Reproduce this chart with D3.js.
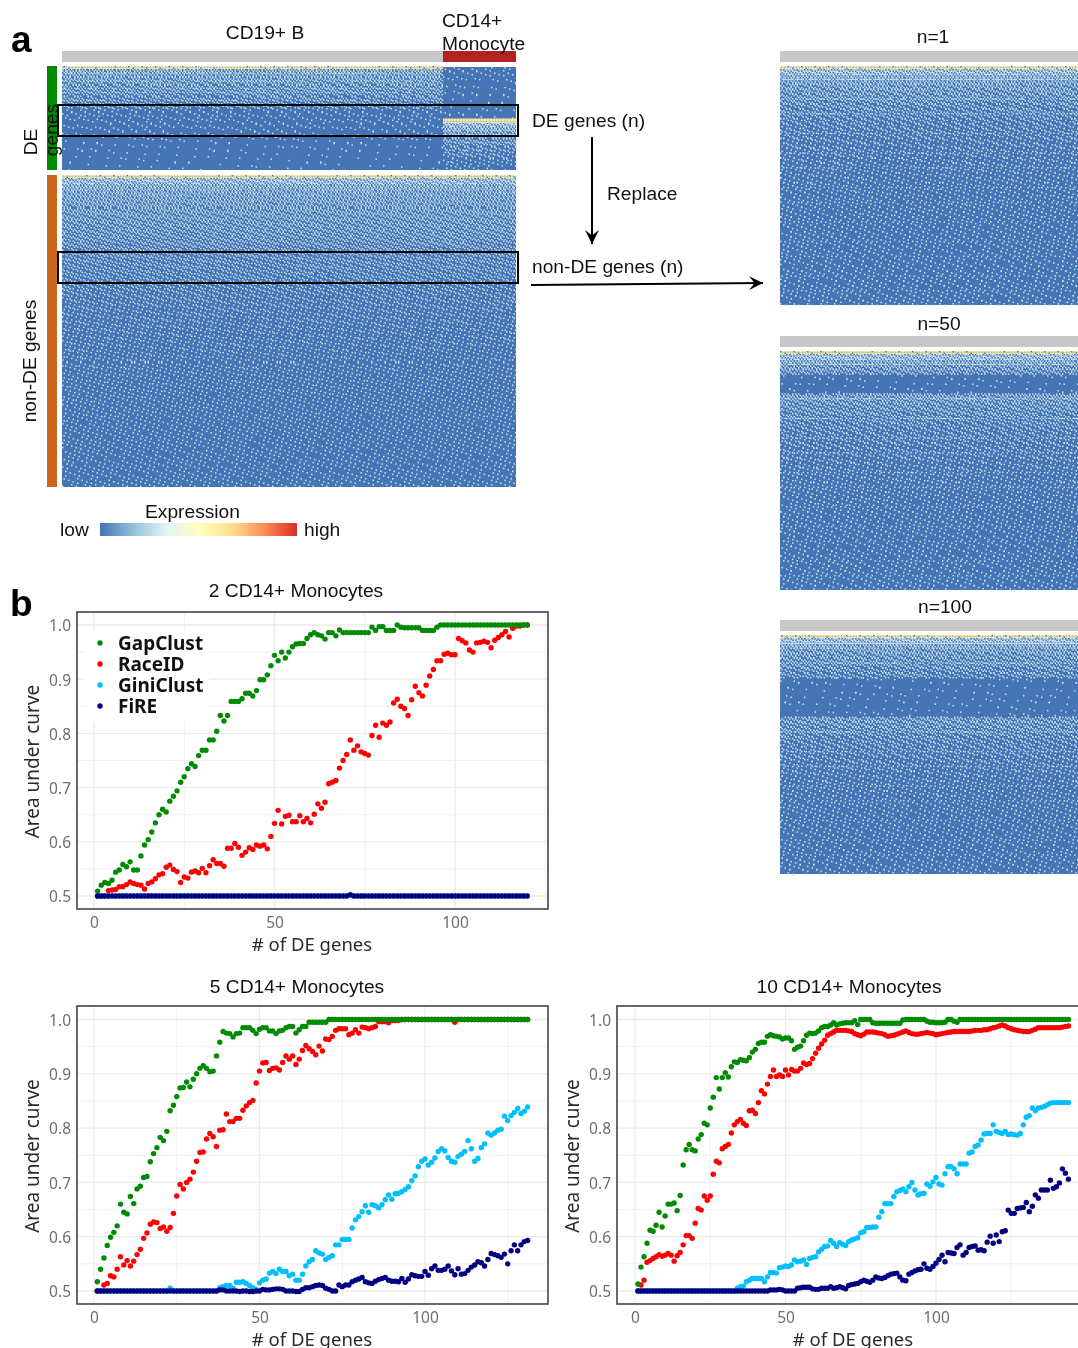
<!DOCTYPE html>
<html>
<head>
<meta charset="utf-8">
<script src="https://cdn.jsdelivr.net/npm/d3@7"></script>
<style>
  html, body { margin: 0; padding: 0; background: #fff; }
  #page { position: relative; width: 1078px; height: 1348px; overflow: hidden; }
  canvas, svg { position: absolute; left: 0; top: 0; }
  .helv { font-family: "Liberation Sans", sans-serif; fill: #111; }
  .noto { font-family: "Noto Sans", sans-serif; }
</style>
</head>
<body>
<div id="page">
  <canvas id="heat" width="1078" height="1348"></canvas>
  <svg id="chart" width="1078" height="1348"></svg>
</div>
<script>
// ---- panel b values, one entry per # of DE genes (1, 2, 3 ...)
var gap2 = [
  .509,.52,.525,.523,.529,.544,.548,.558,.554,.563,
  .548,.548,.574,.594,.604,.618,.635,.65,.66,.655,
  .675,.684,.694,.71,.72,.735,.744,.739,.759,.769,
  .769,.788,.788,.804,.833,.823,.833,.859,.859,.859,
  .864,.874,.874,.869,.879,.899,.899,.908,.925,.944,
  .934,.95,.939,.95,.96,.965,.966,.966,.975,.982,
  .986,.982,.98,.974,.986,.986,.98,.991,.986,.986,
  .986,.986,.986,.986,.986,.986,.996,.99,.997,.997,
  .99,.99,.99,1,.996,.995,.995,.995,.995,.995,
  .99,.99,.99,.99,.996,1,1,1,1,1,
  1,1,1,1,1,1,1,1,1,1,
  1,1,1,1,1,1,1,1,1,1];
var race2 = [
  .5,.5,.5,.51,.511,.512,.517,.517,.521,.526,
  .523,.521,.52,.513,.523,.526,.532,.539,.541,.553,
  .557,.549,.545,.525,.535,.533,.544,.546,.543,.551,
  .543,.556,.567,.56,.56,.555,.588,.588,.597,.59,
  .575,.581,.589,.586,.594,.592,.594,.587,.61,.634,
  .658,.633,.647,.649,.637,.637,.648,.637,.643,.635,
  .651,.67,.662,.673,.707,.71,.713,.736,.75,.761,
  .788,.769,.777,.766,.763,.76,.796,.815,.793,.819,
  .815,.821,.856,.863,.85,.846,.833,.862,.887,.875,
  .869,.889,.906,.918,.934,.934,.946,.948,.945,.945,
  .975,.971,.967,.954,.95,.967,.968,.97,.968,.958,
  .972,.977,.982,.988,.978,.994,.998,.998,1,1];
var gini2 = [
  .5,.5,.5,.5,.5,.5,.5,.5,.5,.5, .5,.5,.5,.5,.5,.5,.5,.5,.5,.5,
  .5,.5,.5,.5,.5,.5,.5,.5,.5,.5, .5,.5,.5,.5,.5,.5,.5,.5,.5,.5,
  .5,.5,.5,.5,.5,.5,.5,.5,.5,.5, .5,.5,.5,.5,.5,.5,.5,.5,.5,.5,
  .5,.5,.5,.5,.5,.5,.5,.5,.5,.5, .503,.5,.5,.5,.5,.5,.5,.5,.5,.5,
  .5,.5,.5,.5,.5,.5,.5,.5,.5,.5, .5,.5,.5,.5,.5,.5,.5,.5,.5,.5,
  .5,.5,.5,.5,.5,.5,.5,.5,.5,.5, .5,.5,.5,.5,.5,.5,.5,.5,.5,.5];
var fire2 = [
  .5,.5,.5,.5,.5,.5,.5,.5,.5,.5, .5,.5,.5,.5,.5,.5,.5,.5,.5,.5,
  .5,.5,.5,.5,.5,.5,.5,.5,.5,.5, .5,.5,.5,.5,.5,.5,.5,.5,.5,.5,
  .5,.5,.5,.5,.5,.5,.5,.5,.5,.5, .5,.5,.5,.5,.5,.5,.5,.5,.5,.5,
  .5,.5,.5,.5,.5,.5,.5,.5,.5,.5, .502,.5,.5,.5,.5,.5,.5,.5,.5,.5,
  .5,.5,.5,.5,.5,.5,.5,.5,.5,.5, .5,.5,.5,.5,.5,.5,.5,.5,.5,.5,
  .5,.5,.5,.5,.5,.5,.5,.5,.5,.5, .5,.5,.5,.5,.5,.5,.5,.5,.5,.5];

var gap5 = [
  .517,.54,.561,.584,.599,.608,.62,.66,.645,.642,
  .674,.661,.688,.693,.709,.711,.738,.753,.764,.783,
  .777,.794,.832,.842,.858,.874,.875,.885,.876,.89,
  .9,.91,.915,.91,.904,.905,.933,.958,.978,.975,
  .974,.968,.974,.975,.985,.985,.985,.98,.974,.982,
  .985,.985,.979,.979,.974,.979,.98,.985,.987,.987,
  .975,.981,.987,.987,.995,.995,.995,.995,.995,.995,
  1,1,1,1,1,1,1,1,1,1, 1,1,1,1,1,1,1,1,1,1,
  1,1,1,1,1,1,1,1,1,1, 1,1,1,1,1,1,1,1,1,1,
  1,1,1,1,1,1,1,1,1,1, 1,1,1,1,1,1,1,1,1,1,1];
var race5 = [
  .5,.5,.511,.514,.528,.526,.54,.563,.548,.556,
  .546,.555,.567,.577,.597,.607,.623,.627,.626,.615,
  .618,.61,.617,.643,.675,.696,.688,.7,.706,.719,
  .739,.755,.756,.78,.79,.784,.766,.796,.797,.826,
  .812,.812,.818,.818,.833,.841,.847,.851,.883,.905,
  .92,.921,.906,.91,.911,.907,.921,.933,.927,.933,
  .917,.927,.943,.952,.946,.941,.935,.951,.942,.964,
  .963,.969,.98,.983,.983,.983,.972,.975,.981,.975,
  .986,.985,.983,.985,.987,.996,.996,.996,.994,.998,
  .998,.998,1,1,1,1,1,1,1,1,
  1,1,1,1,1,1,1,1,.995,1,
  1,1,1,1,1,1,1,1,1,1, 1,1,1,1,1,1,1,1,1,1,1];
var gini5 = [
  .5,.5,.5,.5,.5,.5,.5,.5,.5,.5, .5,.5,.5,.5,.5,.5,.5,.5,.5,.5,
  .5,.5,.505,.5,.5,.5,.5,.5,.5,.5,
  .5,.5,.5,.5,.5,.5,.5,.506,.508,.51,
  .51,.505,.516,.516,.517,.514,.51,.506,.503,.515,
  .52,.522,.533,.536,.532,.54,.536,.536,.528,.531,
  .52,.52,.531,.546,.554,.558,.574,.57,.568,.558,
  .562,.565,.585,.585,.595,.595,.595,.616,.631,.637,
  .646,.657,.645,.659,.657,.653,.659,.668,.677,.669,
  .679,.68,.683,.687,.692,.703,.712,.729,.739,.743,
  .732,.737,.745,.757,.762,.758,.746,.739,.737,.748,
  .752,.757,.777,.762,.739,.744,.764,.771,.791,.787,
  .791,.796,.798,.822,.814,.823,.829,.836,.827,.831,.839];
var fire5 = [
  .5,.5,.5,.5,.5,.5,.5,.5,.5,.5, .5,.5,.5,.5,.5,.5,.5,.5,.5,.5,
  .5,.5,.5,.5,.5,.5,.5,.5,.5,.5,
  .5,.5,.5,.5,.5,.5,.5,.502,.502,.5,
  .5,.5,.5,.499,.5,.5,.499,.499,.5,.5,
  .503,.502,.502,.503,.504,.504,.503,.5,.5,.5,
  .499,.499,.503,.506,.506,.508,.51,.511,.51,.505,
  .503,.5,.5,.511,.508,.511,.511,.517,.52,.522,
  .525,.517,.515,.514,.518,.521,.523,.525,.52,.518,
  .518,.517,.523,.516,.522,.53,.528,.527,.527,.536,
  .529,.541,.546,.538,.538,.54,.546,.537,.53,.541,
  .531,.532,.538,.544,.548,.554,.552,.546,.558,.569,
  .567,.565,.562,.568,.55,.574,.585,.574,.585,.591,.593];

var gap10 = [
  .513,.544,.563,.588,.612,.61,.621,.645,.618,.638,
  .66,.66,.662,.648,.676,.732,.76,.77,.76,.758,
  .78,.788,.809,.806,.837,.857,.893,.872,.893,.902,
  .894,.913,.922,.921,.926,.925,.924,.93,.94,.945,
  .956,.958,.958,.969,.972,.97,.969,.968,.964,.966,
  .966,.961,.945,.949,.951,.961,.971,.975,.974,.975,
  .979,.985,.987,.987,.99,.994,.99,.992,.993,.994,
  .994,.994,.998,.991,1,1,1,1,.994,.993,
  .993,.993,.993,.993,.993,.993,.993,.993,.999,1,
  1,1,1,1,1,1,.997,.995,.995,.994,
  .994,.994,.995,1,1,.997,.995,1,1,1,
  1,1,1,1,1,1,1,1,1,1, 1,1,1,1,1,1,1,1,1,1,
  1,1,1,1,1,1,1,1,1,1, 1,1,1,1];
var race10 = [
  .5,.511,.52,.553,.556,.56,.563,.567,.564,.566,
  .569,.566,.555,.565,.571,.585,.602,.602,.597,.625,
  .652,.649,.675,.667,.675,.715,.739,.736,.762,.766,
  .77,.791,.806,.812,.816,.809,.805,.832,.833,.827,
  .847,.869,.863,.881,.895,.907,.895,.898,.895,.907,
  .898,.908,.905,.905,.91,.92,.917,.919,.928,.938,
  .947,.955,.962,.971,.974,.977,.98,.98,.98,.98,
  .979,.978,.974,.972,.97,.973,.977,.977,.977,.976,
  .975,.974,.972,.969,.97,.971,.973,.975,.977,.979,
  .976,.974,.973,.973,.974,.975,.976,.975,.974,.972,
  .973,.974,.975,.976,.977,.978,.978,.978,.978,.978,
  .978,.979,.98,.98,.98,.981,.981,.983,.985,.986,
  .988,.99,.988,.985,.983,.981,.98,.979,.978,.978,
  .978,.98,.982,.985,.985,.985,.985,.985,.985,.985,.985,.986,.987,.988];
var gini10 = [
  .5,.5,.5,.5,.5,.5,.5,.5,.5,.5, .5,.5,.5,.5,.5,.5,.5,.5,.5,.5,
  .5,.5,.5,.5,.5,.5,.5,.5,.5,.5,
  .5,.5,.5,.505,.508,.509,.517,.52,.523,.523,
  .523,.523,.517,.526,.534,.534,.533,.543,.544,.546,
  .545,.548,.557,.554,.555,.557,.549,.56,.562,.563,
  .572,.577,.582,.583,.593,.588,.582,.589,.586,.584,
  .591,.594,.596,.598,.607,.609,.617,.617,.618,.618,
  .636,.646,.661,.661,.661,.674,.683,.685,.688,.683,
  .692,.7,.686,.677,.679,.68,.697,.693,.701,.709,
  .697,.695,.716,.729,.729,.725,.716,.734,.734,.734,
  .754,.756,.766,.769,.778,.789,.79,.79,.806,.794,
  .792,.79,.794,.788,.789,.788,.787,.79,.806,.82,
  .823,.837,.832,.837,.838,.84,.843,.846,.847,.847,.847,.847,.847,.847];
var fire10 = [
  .5,.5,.5,.5,.5,.5,.5,.5,.5,.5, .5,.5,.5,.5,.5,.5,.5,.5,.5,.5,
  .5,.5,.5,.5,.5,.5,.5,.5,.5,.5, .5,.5,.5,.5,.5,.5,.5,.5,.5,.5,
  .5,.5,.5,.5,.502,.502,.502,.503,.502,.5,
  .5,.5,.5,.505,.506,.507,.507,.507,.504,.503,
  .503,.505,.505,.505,.508,.505,.506,.508,.506,.504,
  .51,.512,.513,.514,.517,.52,.518,.516,.52,.526,
  .524,.523,.525,.528,.531,.532,.533,.526,.52,.519,
  .531,.534,.537,.539,.54,.55,.542,.54,.545,.551,
  .558,.566,.554,.571,.57,.569,.58,.585,.566,.571,
  .58,.582,.583,.575,.576,.574,.59,.601,.588,.603,
  .591,.609,.611,.649,.643,.643,.652,.653,.654,.663,
  .646,.656,.677,.671,.686,.686,.686,.704,.689,.692,.699,.725,.717,.706];

var methods = ["GapClust", "RaceID", "GiniClust", "FiRE"];
var methodColors = ["#008b00", "#ff0000", "#00bfff", "#000080"];
var yTicks = [0.5, 0.6, 0.7, 0.8, 0.9, 1.0];
var xTicks = [0, 50, 100];

// ---- panel a: share of expressing cells in each gene band, top to bottom, estimated by eye.
// The original is one cell per gene/cell and can't be read cell by cell, so the speckle below
// is only a fixed dither screen over these band shares, it is not per cell data.
var deBcell = [.5,.45,.42,.38,.35,.33,.3,.28,.25,.22,.1,.09,.08,.08,.07,.06,.06,.05,.03,.03,.03,.02,.02,.02,.02,.02];
var deMono = [.09,.07,.06,.05,.05,.04,.04,.04,.03,.03,.03,.03,.03,1,.7,.55,.42,.35,.3,.28,.25,.2,.18,.15,.1,.08];
var nonDe = [.7,.55,.48,.44,.42,.4,.38,.36,.35,.33,.32,.3,.28,.27,.26,.25,.24,.23,.22,.2,.19,.18,.17,.17,.16,.16,
  .15,.15,.15,.14,.14,.14,.13,.13,.13,.13,.12,.12,.12,.12,.12,.11,.11,.11,.11,.1,.1,.1,.1,.1,.1,.1];
var replaced1 = [.7,.55,.45,.4,.36,.33,.3,.28,.26,.24,.22,.21,.2,.19,.18,.17,.16,.16,.15,.15,.14,.14,.13,.13,
  .13,.12,.12,.12,.12,.12,.11,.11,.11,.11,.11,.11,.1,.1,.1,.1,.1,.1,.1,.1,.1,.1,.1,.1];
var replaced50 = [.7,.5,.38,.33,.03,.03,.03,.03,.4,.35,.32,.3,.28,.26,.24,.22,.21,.2,.19,.18,.17,.16,.15,.15,
  .14,.14,.13,.13,.12,.12,.12,.11,.11,.11,.11,.11,.1,.1,.1,.1,.1,.1,.1,.1,.1,.1,.1,.1];
var replaced100 = [.7,.5,.4,.36,.32,.3,.28,.26,.03,.03,.03,.03,.03,.03,.03,.03,.36,.32,.29,.26,.24,.22,.2,.19,
  .18,.17,.16,.15,.14,.14,.13,.13,.12,.12,.12,.11,.11,.11,.11,.11,.1,.1,.1,.1,.1,.1,.1,.1];
var topEdge = [.92];
var expressionColors = ["#4575b4", "#91bfdb", "#e0f3f8", "#ffffbf", "#fee090", "#fc8d59", "#d73027"];

var color = d3.scaleLinear()
    .domain(d3.range(expressionColors.length).map(function(i) { return i / (expressionColors.length - 1); }))
    .range(expressionColors);

var ctx = document.getElementById("heat").getContext("2d");
var svg = d3.select("#chart");

// fixed dither screen (interleaved gradient), same for every block
function screen(c, r) {
    var a = 0.06711056 * c + 0.00583715 * r;
    var b = 52.9829189 * (a - Math.floor(a));
    return b - Math.floor(b);
}

// draws one block of the heatmap on the canvas, bands come from a d3 band scale
function drawHeat(x0, x1, y0, y1, values) {
    var y = d3.scaleBand().domain(d3.range(values.length)).range([y0, y1]);
    var cell = 1.5;
    ctx.fillStyle = color(0);
    ctx.fillRect(x0, y0, x1 - x0, y1 - y0);
    values.forEach(function(v, i) {
        for (var py = y(i); py < y(i) + y.bandwidth() - 0.01; py += cell) {
            for (var px = x0; px < x1 - 0.01; px += cell) {
                if (v > screen(Math.round(px / cell), Math.round(py / cell))) {
                    ctx.fillStyle = color(v > 0.85 ? 0.6 : 0.28);
                    ctx.fillRect(px, py, cell, cell);
                }
            }
        }
    });
}

// main heatmap
drawHeat(62, 443, 69, 170, deBcell);
drawHeat(62, 443, 66, 69, topEdge);
drawHeat(443, 516, 67, 170, deMono);
drawHeat(62, 516, 178, 487, nonDe);
drawHeat(62, 516, 175, 178, topEdge);
// replaced panels
drawHeat(780, 1078, 69, 305, replaced1);
drawHeat(780, 1078, 66, 69, topEdge);
drawHeat(780, 1078, 354, 590, replaced50);
drawHeat(780, 1078, 351, 354, topEdge);
drawHeat(780, 1078, 638, 874, replaced100);
drawHeat(780, 1078, 635, 638, topEdge);

function text(x, y, s, size, cls) {
    return svg.append("text").attr("class", cls || "helv")
        .attr("x", x).attr("y", y).attr("font-size", size).text(s);
}
function vtext(x, y, s, size, cls) {
    return svg.append("text").attr("class", cls || "helv")
        .attr("transform", "translate(" + x + "," + y + ") rotate(-90)")
        .attr("text-anchor", "middle").attr("font-size", size).text(s);
}

// annotation bars
[[62, 51, 381, 11, "#c8c8c8"], [443, 51, 73, 11, "#b22222"], [47, 66, 10, 104, "#008b00"], [47, 175, 10, 312, "#cd661d"],
 [780, 51, 298, 11, "#c8c8c8"], [780, 336, 298, 11, "#c8c8c8"], [780, 620, 298, 11, "#c8c8c8"]].forEach(function(b) {
    svg.append("rect").attr("x", b[0]).attr("y", b[1]).attr("width", b[2]).attr("height", b[3]).attr("fill", b[4]);
});

// selection boxes
[105, 252].forEach(function(y) {
    svg.append("rect").attr("x", 58).attr("y", y).attr("width", 460).attr("height", 31)
        .attr("fill", "none").attr("stroke", "#000").attr("stroke-width", 2);
});

var big = 19.2;
text(11, 52, "a", 37).attr("font-weight", "bold").style("fill", "#000");
text(10, 616, "b", 37).attr("font-weight", "bold").style("fill", "#000");
text(265, 39, "CD19+ B", big).attr("text-anchor", "middle");
text(442, 27, "CD14+", big);
text(442, 50, "Monocyte", big);
vtext(37, 142, "DE", big);
vtext(58, 130, "genes", big);
vtext(36, 361, "non-DE genes", big);
text(532, 127, "DE genes (n)", big);
text(607, 200, "Replace", big);
text(532, 273, "non-DE genes (n)", big);
text(933, 43, "n=1", big).attr("text-anchor", "middle");
text(939, 330, "n=50", big).attr("text-anchor", "middle");
text(945, 613, "n=100", big).attr("text-anchor", "middle");

// arrows
var defs = svg.append("defs");
defs.append("marker").attr("id", "head").attr("viewBox", "0 0 10 10").attr("refX", 10).attr("refY", 5)
    .attr("markerWidth", 14).attr("markerHeight", 14).attr("markerUnits", "userSpaceOnUse").attr("orient", "auto")
    .append("path").attr("d", "M0,0L10,5L0,10L4,5z").attr("fill", "#000");
[[592, 137, 592, 244], [531, 285, 763, 283]].forEach(function(a) {
    svg.append("line").attr("x1", a[0]).attr("y1", a[1]).attr("x2", a[2]).attr("y2", a[3])
        .attr("stroke", "#000").attr("stroke-width", 2).attr("marker-end", "url(#head)");
});

// colour bar
var grad = defs.append("linearGradient").attr("id", "bar");
expressionColors.forEach(function(c, i) {
    grad.append("stop").attr("offset", i / (expressionColors.length - 1)).attr("stop-color", c);
});
svg.append("rect").attr("x", 100).attr("y", 523).attr("width", 197).attr("height", 13).attr("fill", "url(#bar)");
text(192.5, 518, "Expression", big).attr("text-anchor", "middle");
text(60, 536, "low", big);
text(304, 536, "high", big);

// one AUC panel of part b
function buildPanel(opt) {
    var x = d3.scaleLinear().domain([0, 100]).range([opt.x0, opt.x100]);
    var y = d3.scaleLinear().domain([0.5, 1]).range([opt.y05, opt.y1]);
    var g = svg.append("g");

    // gridlines: keep them inside the frame
    var xMinor = [25, 75, 125, 150].filter(function(d) { return x(d) < opt.right; });
    var xMajor = [0, 50, 100, 150].filter(function(d) { return x(d) < opt.right; });
    g.selectAll(".vminor").data(xMinor).enter().append("line")
        .attr("x1", x).attr("x2", x).attr("y1", opt.top).attr("y2", opt.bottom)
        .attr("stroke", "#f0f0f0").attr("stroke-width", 1);
    g.selectAll(".vmajor").data(xMajor).enter().append("line")
        .attr("x1", x).attr("x2", x).attr("y1", opt.top).attr("y2", opt.bottom)
        .attr("stroke", "#ebebeb").attr("stroke-width", 1.3);
    g.selectAll(".hminor").data([.55, .65, .75, .85, .95]).enter().append("line")
        .attr("y1", y).attr("y2", y).attr("x1", opt.left).attr("x2", opt.right)
        .attr("stroke", "#f0f0f0").attr("stroke-width", 1);
    g.selectAll(".hmajor").data(yTicks).enter().append("line")
        .attr("y1", y).attr("y2", y).attr("x1", opt.left).attr("x2", opt.right)
        .attr("stroke", "#ebebeb").attr("stroke-width", 1.3);

    if (opt.legend) {
        g.append("rect").attr("x", 85).attr("y", opt.top + 18).attr("width", 124).attr("height", 92).attr("fill", "#fff");
    }

    // FiRE goes last so it sits on the cyan, green sits on red
    [[1, opt.race], [0, opt.gap], [2, opt.gini], [3, opt.fire]].forEach(function(s) {
        g.selectAll(".dot" + s[0]).data(s[1]).enter().append("circle")
            .attr("cx", function(d, i) { return x(i + 1); })
            .attr("cy", function(d) { return y(d); })
            .attr("r", 2.7)
            .attr("fill", methodColors[s[0]]);
    });

    g.append("rect").attr("x", opt.left).attr("y", opt.top)
        .attr("width", opt.right - opt.left).attr("height", opt.bottom - opt.top)
        .attr("fill", "none").attr("stroke", "#444").attr("stroke-width", 1.6);

    // axes, domain and tick marks off like theme_minimal
    var yAxis = g.append("g").attr("transform", "translate(" + opt.left + ",0)")
        .call(d3.axisLeft(y).tickValues(yTicks).tickFormat(d3.format(".1f")).tickSize(0).tickPadding(6));
    var xAxis = g.append("g").attr("transform", "translate(0," + opt.bottom + ")")
        .call(d3.axisBottom(x).tickValues(xTicks).tickSize(0).tickPadding(8));
    [yAxis, xAxis].forEach(function(a) {
        a.select(".domain").remove();
        a.selectAll("text").attr("class", "noto").attr("font-size", 15.5).attr("fill", "#6e6e6e");
    });
    yAxis.selectAll("text").attr("dy", "0.38em");

    text(opt.titleX, opt.titleY, opt.title, big).attr("text-anchor", "middle");
    text(opt.xLabelX, opt.bottom + 42, "# of DE genes", 18.5, "noto").attr("text-anchor", "middle").attr("fill", "#2a2a2a");
    vtext(opt.left - 38, (opt.top + opt.bottom) / 2 + 1, "Area under curve", 19, "noto").attr("fill", "#2a2a2a");

    if (opt.legend) {
        methods.forEach(function(m, i) {
            var ly = opt.top + 31 + i * 21;
            g.append("circle").attr("cx", 100).attr("cy", ly).attr("r", 2.7).attr("fill", methodColors[i]);
            text(118, ly + 7, m, 19, "noto").attr("font-weight", "bold").attr("fill", "#111");
        });
    }
}

buildPanel({title: "2 CD14+ Monocytes", titleX: 296, titleY: 597, xLabelX: 312, legend: true,
    left: 77, right: 548, top: 612, bottom: 909, x0: 94, x100: 455, y05: 896, y1: 625,
    gap: gap2, race: race2, gini: gini2, fire: fire2});
buildPanel({title: "5 CD14+ Monocytes", titleX: 297, titleY: 993, xLabelX: 312,
    left: 77, right: 548, top: 1006, bottom: 1304, x0: 94, x100: 425, y05: 1291, y1: 1019.5,
    gap: gap5, race: race5, gini: gini5, fire: fire5});
buildPanel({title: "10 CD14+ Monocytes", titleX: 849, titleY: 993, xLabelX: 853,
    left: 617, right: 1085, top: 1006, bottom: 1304, x0: 635, x100: 936, y05: 1291, y1: 1019.5,
    gap: gap10, race: race10, gini: gini10, fire: fire10});
</script>
</body>
</html>
